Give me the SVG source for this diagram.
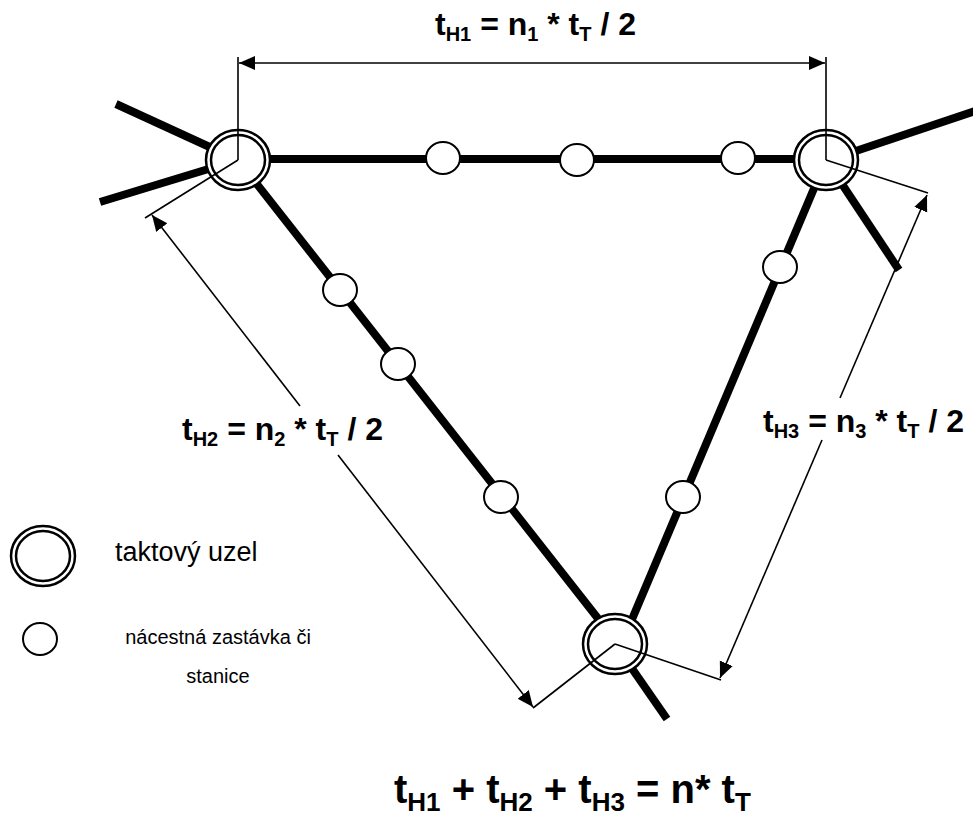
<svg xmlns="http://www.w3.org/2000/svg" width="973" height="816" viewBox="0 0 973 816">
<style>
.edge{stroke:#000;stroke-width:8;fill:none;stroke-linecap:butt}
.ring{fill:#fff;stroke:#000;stroke-width:2.5}
.ring2{fill:none;stroke:#000;stroke-width:2.5}
.stop{fill:#fff;stroke:#000;stroke-width:2}
.dim{stroke:#000;stroke-width:1.6;fill:none}
.lbl{font-family:"Liberation Sans",Arial,sans-serif;font-weight:bold;fill:#000}
.leg{font-family:"Liberation Sans",Arial,sans-serif;fill:#000}
</style>
<defs>
<marker id="ah" markerUnits="userSpaceOnUse" markerWidth="18" markerHeight="16" refX="16" refY="7" orient="auto-start-reverse">
<path d="M0,0 L16,7 L0,14 z" fill="#000"/>
</marker>
</defs>
<g id="edges">
<line class="edge" x1="116" y1="104" x2="238" y2="160"/>
<line class="edge" x1="100" y1="202" x2="238" y2="160"/>
<line class="edge" x1="238" y1="159" x2="826" y2="159"/>
<line class="edge" x1="238" y1="160" x2="618" y2="644"/>
<line class="edge" x1="826" y1="160" x2="622" y2="643"/>
<line class="edge" x1="826" y1="161" x2="975" y2="111"/>
<line class="edge" x1="826" y1="160" x2="899" y2="270"/>
<line class="edge" x1="615" y1="644" x2="667" y2="719"/>
</g>
<g id="node-A">
<ellipse class="ring" cx="238" cy="160" rx="32" ry="30"/>
<ellipse class="ring2" cx="238" cy="160" rx="27" ry="25"/>
</g>
<g id="node-B">
<ellipse class="ring" cx="826" cy="160" rx="32" ry="30"/>
<ellipse class="ring2" cx="826" cy="160" rx="27" ry="25"/>
</g>
<g id="node-C">
<ellipse class="ring" cx="615" cy="644" rx="32" ry="30"/>
<ellipse class="ring2" cx="615" cy="644" rx="27" ry="25"/>
</g>
<g id="stops">
<ellipse class="stop" cx="443" cy="158" rx="17" ry="16"/>
<ellipse class="stop" cx="577" cy="160" rx="17" ry="16"/>
<ellipse class="stop" cx="738" cy="158" rx="17" ry="16"/>
<ellipse class="stop" cx="340" cy="290" rx="17" ry="16"/>
<ellipse class="stop" cx="398" cy="364" rx="17" ry="16"/>
<ellipse class="stop" cx="501" cy="497" rx="17" ry="16"/>
<ellipse class="stop" cx="780" cy="267" rx="17" ry="16"/>
<ellipse class="stop" cx="683" cy="497" rx="17" ry="16"/>
</g>
<g id="dimensions">
<line class="dim" x1="238" y1="57" x2="238" y2="160"/>
<line class="dim" x1="826" y1="57" x2="826" y2="160"/>
<line class="dim" x1="239" y1="63" x2="825" y2="63" marker-start="url(#ah)" marker-end="url(#ah)"/>
<line class="dim" x1="238" y1="160" x2="145" y2="218"/>
<line class="dim" x1="615" y1="644" x2="533" y2="708"/>
<line class="dim" x1="152" y1="215" x2="300" y2="406" marker-start="url(#ah)"/>
<line class="dim" x1="338" y1="455" x2="533" y2="707" marker-end="url(#ah)"/>
<line class="dim" x1="826" y1="160" x2="928" y2="193"/>
<line class="dim" x1="615" y1="644" x2="721" y2="680"/>
<line class="dim" x1="927" y1="195" x2="840" y2="398" marker-start="url(#ah)"/>
<line class="dim" x1="822" y1="440" x2="720" y2="678" marker-end="url(#ah)"/>
</g>
<g id="labels">
<text class="lbl" x="435" y="35" font-size="32">t<tspan font-size="20" dy="6">H1</tspan><tspan dy="-6"> = n</tspan><tspan font-size="20" dy="6">1</tspan><tspan dy="-6"> * t</tspan><tspan font-size="20" dy="6">T</tspan><tspan dy="-6"> / 2</tspan></text>
<text class="lbl" x="182" y="440" font-size="32">t<tspan font-size="20" dy="6">H2</tspan><tspan dy="-6"> = n</tspan><tspan font-size="20" dy="6">2</tspan><tspan dy="-6"> * t</tspan><tspan font-size="20" dy="6">T</tspan><tspan dy="-6"> / 2</tspan></text>
<text class="lbl" x="763" y="432" font-size="32">t<tspan font-size="20" dy="6">H3</tspan><tspan dy="-6"> = n</tspan><tspan font-size="20" dy="6">3</tspan><tspan dy="-6"> * t</tspan><tspan font-size="20" dy="6">T</tspan><tspan dy="-6"> / 2</tspan></text>
<text class="lbl" x="394" y="803" font-size="40">t<tspan font-size="26" dy="8">H1</tspan><tspan dy="-8"> + t</tspan><tspan font-size="26" dy="8">H2</tspan><tspan dy="-8"> + t</tspan><tspan font-size="26" dy="8">H3</tspan><tspan dy="-8"> = n* t</tspan><tspan font-size="26" dy="8">T</tspan></text>
</g>
<g id="legend">
<g id="legend-node">
<ellipse class="ring" cx="43" cy="556" rx="32" ry="30"/>
<ellipse class="ring2" cx="43" cy="556" rx="27" ry="25"/>
<text class="leg" x="115" y="561" font-size="27">taktový uzel</text>
</g>
<g id="legend-stop">
<ellipse class="stop" cx="40" cy="639" rx="17" ry="16"/>
<text class="leg" x="218" y="644" text-anchor="middle" font-size="20">nácestná zastávka či</text>
<text class="leg" x="218" y="683" text-anchor="middle" font-size="20">stanice</text>
</g>
</g>
</svg>
